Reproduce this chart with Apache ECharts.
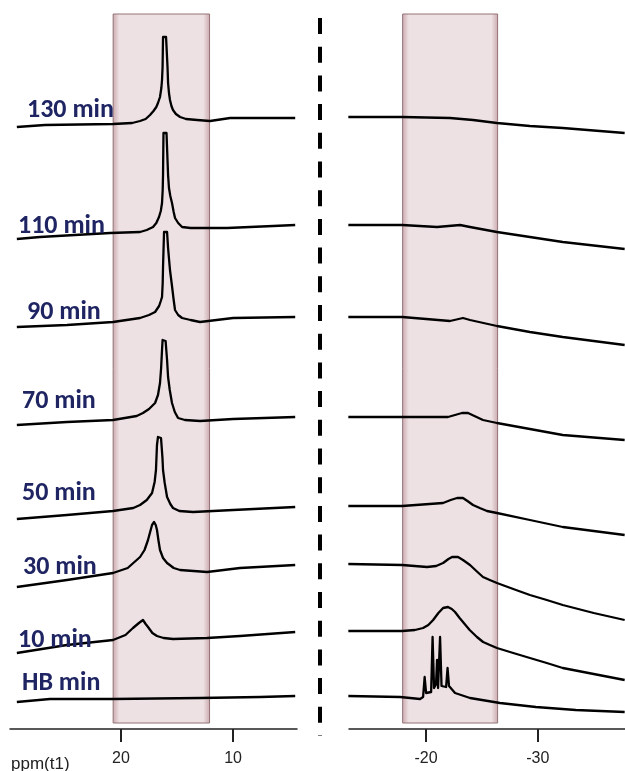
<!DOCTYPE html>
<html>
<head>
<meta charset="utf-8">
<script src="https://cdn.jsdelivr.net/npm/echarts@6/dist/echarts.min.js"></script>
<style>
  html, body { margin: 0; background: #fff; }
  #chart { width: 625px; height: 771px; }
</style>
</head>
<body>
<div id="chart"></div>
<script>
// time points, top to bottom
const timeLabels = ["130 min", "110 min", "90 min", "70 min", "50 min", "30 min", "10 min", "HB min"];

// left window (ppm, stacked intensity)
const left130 = [[29.29, 611], [26.79, 613], [20.71, 614], [19.0, 615], [18.30, 617], [17.8, 619], [17.41, 623], [17.1, 627], [16.85, 631], [16.70, 635], [16.52, 641], [16.40, 650], [16.34, 658], [16.29, 671], [16.25, 701], [15.98, 701], [15.85, 671], [15.80, 655], [15.72, 645], [15.63, 638], [15.50, 632], [15.36, 628], [15.1, 624], [14.73, 621], [14.2, 619], [13.21, 618], [12.05, 617], [10.27, 620], [4.46, 620]];
const left110 = [[29.29, 499], [27.23, 501], [20.98, 505], [18.30, 506], [17.7, 508], [17.14, 511], [16.85, 515], [16.61, 521], [16.45, 527], [16.34, 535], [16.28, 548], [16.25, 563], [16.21, 605], [15.94, 605], [15.80, 563], [15.72, 550], [15.6, 542], [15.45, 535], [15.3, 526], [15.18, 520], [14.9, 515], [14.55, 511], [13.8, 510], [12.95, 510], [10.54, 510], [6.43, 512], [4.46, 513]];
const left90 = [[29.29, 411], [24.82, 413], [20.71, 416], [18.30, 420], [17.5, 423], [16.96, 426], [16.6, 432], [16.45, 437], [16.34, 441], [16.28, 455], [16.25, 471], [16.16, 506], [15.89, 506], [15.80, 490], [15.63, 468], [15.45, 452], [15.3, 438], [15.18, 428], [14.9, 423], [14.55, 420], [13.8, 418], [12.95, 416], [10.00, 420], [4.46, 421]];
const left70 = [[29.29, 313], [24.82, 316], [20.71, 318], [18.6, 322], [18.04, 325], [17.5, 329], [16.96, 335], [16.7, 343], [16.52, 355], [16.42, 370], [16.34, 388], [16.29, 398], [16.02, 397], [15.89, 378], [15.80, 361], [15.65, 348], [15.45, 335], [15.2, 326], [14.91, 320], [14.3, 318], [12.95, 317], [10.00, 319], [4.46, 321]];
const left50 = [[29.29, 219], [24.82, 223], [20.71, 227], [18.9, 230], [18.30, 233], [17.7, 238], [17.23, 245], [17.0, 256], [16.88, 268], [16.79, 293], [16.70, 301], [16.43, 300], [16.30, 280], [16.25, 268], [16.1, 255], [15.89, 241], [15.6, 234], [15.36, 230], [14.8, 227], [13.57, 226], [10.00, 228], [4.46, 231]];
const left30 = [[29.29, 151], [24.82, 158], [20.71, 165], [19.4, 170], [18.30, 181], [17.9, 188], [17.59, 198], [17.4, 206], [17.23, 213], [17.05, 216], [16.9, 213], [16.79, 208], [16.65, 197], [16.52, 188], [16.25, 180], [15.89, 175], [15.3, 170], [14.73, 168], [12.32, 166], [9.38, 170], [4.46, 173]];
const left10 = [[29.29, 85], [24.82, 93], [20.71, 98], [19.6, 103], [18.93, 110], [18.4, 115], [18.04, 118], [17.8, 114], [17.59, 111], [17.2, 105], [16.79, 102], [16.2, 100], [15.36, 99], [12.32, 100], [9.38, 102], [4.46, 106]];
const leftHB = [[29.29, 36], [26.34, 39], [20.71, 39], [12.95, 40], [7.59, 41], [4.46, 42]];

// right window
const right130 = [[-13.04, 621], [-17.86, 621], [-22.14, 620], [-24.20, 618], [-26.34, 615], [-29.29, 612], [-32.23, 610], [-37.77, 605]];
const right110 = [[-13.04, 513], [-17.86, 513], [-20.98, 511], [-23.04, 513], [-23.93, 511], [-26.34, 506], [-29.29, 501], [-32.23, 496], [-37.77, 489]];
const right90 = [[-13.04, 421], [-17.86, 421], [-22.14, 417], [-23.30, 420], [-23.93, 418], [-26.34, 412], [-29.29, 406], [-32.23, 401], [-37.77, 393]];
const right70 = [[-13.04, 321], [-17.86, 321], [-21.96, 321], [-23.21, 325], [-23.75, 325], [-25.09, 318], [-26.34, 315], [-29.29, 309], [-32.23, 303], [-37.77, 298]];
const right50 = [[-13.04, 232], [-17.86, 232], [-21.52, 235], [-22.2, 238], [-22.77, 240], [-23.30, 240], [-23.7, 237], [-24.20, 233], [-24.8, 230], [-25.45, 227], [-26.34, 225], [-29.29, 218], [-32.23, 211], [-37.77, 203]];
const right30 = [[-13.04, 174], [-17.86, 173], [-20.09, 171], [-20.9, 172], [-21.52, 175], [-22.0, 179], [-22.32, 181], [-22.86, 181], [-23.3, 178], [-23.93, 173], [-24.5, 167], [-25.09, 161], [-25.7, 158], [-26.34, 155], [-27.8, 149], [-29.29, 143], [-30.8, 138], [-32.23, 133], [-35.0, 125], [-37.77, 118]];
const right10 = [[-13.04, 107], [-17.86, 107], [-19.0, 108], [-19.73, 110], [-20.2, 113], [-20.63, 118], [-21.1, 125], [-21.52, 130], [-21.96, 131], [-22.3, 129], [-22.59, 126], [-23.0, 120], [-23.30, 116], [-23.9, 108], [-24.55, 101], [-25.1, 96], [-25.71, 93], [-26.34, 90], [-27.8, 85], [-29.29, 80], [-30.8, 75], [-32.23, 70], [-35.0, 64], [-37.77, 58]];
const rightHB = [[-13.04, 42], [-17.68, 41], [-19.46, 39], [-19.73, 41], [-19.87, 61], [-20.00, 45], [-20.45, 46], [-20.58, 101], [-20.71, 50], [-20.89, 54], [-20.98, 78], [-21.07, 50], [-21.25, 101], [-21.38, 52], [-21.79, 51], [-21.92, 70], [-22.05, 52], [-22.59, 45], [-23.93, 40], [-26.61, 35], [-29.82, 31], [-33.39, 28], [-37.77, 26]];

const leftTraces = [left130, left110, left90, left70, left50, left30, left10, leftHB];
const rightTraces = [right130, right110, right90, right70, right50, right30, right10, rightHB];

// highlighted windows (ppm) and their vertical span
const leftBox = [20.7, 12.1];
const rightBox = [-17.9, -26.4];
const boxSpan = [15, 724];

const leftTicks = [20, 10];
const rightTicks = [-20, -30];

const chart = echarts.init(document.getElementById("chart"), null, { renderer: "canvas" });

const boxFill = new echarts.graphic.LinearGradient(0, 0, 1, 0, [
  { offset: 0, color: "#c9a8ad" },
  { offset: 0.07, color: "#eee1e3" },
  { offset: 0.93, color: "#eee1e3" },
  { offset: 1, color: "#c9a8ad" },
]);

const boxSeries = (idx, box) => ({
  type: "line",
  xAxisIndex: idx,
  yAxisIndex: idx,
  data: [],
  z: 1,
  silent: true,
  markArea: {
    silent: true,
    itemStyle: { color: boxFill, borderColor: "#947377", borderWidth: 1 },
    data: [[{ xAxis: box[0], yAxis: boxSpan[1] }, { xAxis: box[1], yAxis: boxSpan[0] }]],
  },
});

const traceSeries = (idx, data, name) => ({
  type: "line",
  name,
  xAxisIndex: idx,
  yAxisIndex: idx,
  data,
  showSymbol: false,
  z: 3,
  lineStyle: { color: "#000", width: 2.3, join: "round" },
});

const xAxisBase = {
  type: "value",
  inverse: true,
  splitLine: { show: false },
  axisLine: { lineStyle: { color: "#222", width: 1.5 } },
  axisTick: { length: 13, lineStyle: { color: "#222", width: 2 } },
  axisLabel: { fontSize: 16, color: "#222", margin: 22, fontFamily: "Liberation Sans, Arial" },
};

const labelY = [110, 226, 312, 401, 493, 567, 640, 683];
const labelX = [27, 18, 27, 22, 22, 23, 18, 22];

const option = {
  animation: false,
  backgroundColor: "#fff",
  grid: [
    { left: 10, width: 287, top: 0, bottom: 42 },
    { left: 349, right: 0, top: 0, bottom: 42 },
  ],
  xAxis: [
    { ...xAxisBase, gridIndex: 0, min: 4.3, max: 29.9,
      axisTick: { ...xAxisBase.axisTick, customValues: leftTicks },
      axisLabel: { ...xAxisBase.axisLabel, customValues: leftTicks } },
    { ...xAxisBase, gridIndex: 1, min: -37.8, max: -13.1,
      axisTick: { ...xAxisBase.axisTick, customValues: rightTicks },
      axisLabel: { ...xAxisBase.axisLabel, customValues: rightTicks } },
  ],
  yAxis: [
    { type: "value", gridIndex: 0, min: 9, max: 738, show: false },
    { type: "value", gridIndex: 1, min: 9, max: 738, show: false },
  ],
  graphic: [
    {
      type: "line",
      shape: { x1: 320, y1: 18, x2: 320, y2: 736 },
      style: { stroke: "#000", lineWidth: 4, lineDash: [16, 12.7] },
      z: 10,
    },
    {
      type: "text",
      style: { text: "ppm(t1)", x: 11, y: 764, fill: "#222", font: "17px 'Liberation Sans', Arial", verticalAlign: "middle" },
    },
    ...timeLabels.map((t, i) => ({
      type: "text",
      z: 5,
      style: {
        text: t,
        x: labelX[i],
        y: labelY[i],
        fill: "#1f2462",
        font: "bold 26px Carlito, 'Open Sans', sans-serif",
        verticalAlign: "middle",
      },
    })),
  ],
  series: [
    boxSeries(0, leftBox),
    boxSeries(1, rightBox),
    ...leftTraces.map((d, i) => traceSeries(0, d, timeLabels[i])),
    ...rightTraces.map((d, i) => traceSeries(1, d, timeLabels[i])),
  ],
};

chart.setOption(option);
</script>
</body>
</html>
